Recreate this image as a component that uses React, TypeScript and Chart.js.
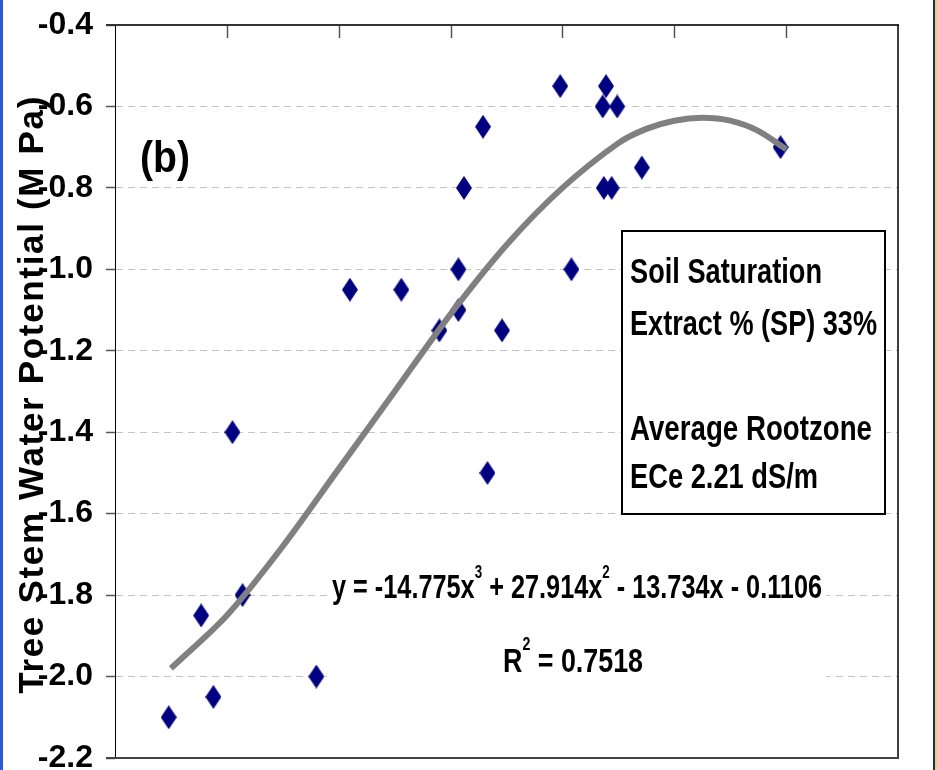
import React, { useEffect, useRef } from 'react';
import { Chart, registerables } from 'chart.js';

Chart.register(...registerables);

// Observed points (x value, tree stem water potential in MPa)
const obsX = [0.448, 0.477, 0.488, 0.505, 0.514, 0.580, 0.610, 0.656, 0.690, 0.707, 0.707, 0.712, 0.729, 0.733, 0.746, 0.798, 0.808, 0.836, 0.839, 0.849, 0.837, 0.844, 0.871, 0.995];
const obsY = [-2.10, -1.85, -2.05, -1.40, -1.80, -2.00, -1.05, -1.05, -1.15, -1.10, -1.00, -0.80, -0.65, -1.50, -1.15, -0.55, -1.00, -0.60, -0.55, -0.60, -0.80, -0.80, -0.75, -0.70];

// Polynomial trendline
const trendX = [0.45, 0.50, 0.55, 0.60, 0.65, 0.70, 0.75, 0.80, 0.85, 0.875, 0.90, 0.925, 0.95, 0.975, 1.00];
const trendY = [-1.98, -1.85, -1.68, -1.49, -1.30, -1.11, -0.94, -0.80, -0.69, -0.655, -0.635, -0.628, -0.635, -0.66, -0.705];

const yMin = -2.2;
const yMax = -0.4;
const yStep = 0.2;
const xMin = 0.4;
const xMax = 1.1;
const xStep = 0.1;

const yTitle = 'Tree Stem Water Potential (M Pa)';
const panelLabel = '(b)';
const boxLines = ['Soil Saturation', 'Extract % (SP) 33%', '', 'Average Rootzone', 'ECe 2.21 dS/m'];
const eqParts: [string, boolean][] = [['y = -14.775x', false], ['3', true], [' + 27.914x', false], ['2', true], [' - 13.734x - 0.1106', false]];
const r2Parts: [string, boolean][] = [['R', false], ['2', true], [' = 0.7518', false]];

const NARROW = '"Liberation Sans Narrow", "Arial Narrow", "Liberation Sans", Arial, sans-serif';

function fitText(ctx: CanvasRenderingContext2D, text: string, left: number, baseline: number, size: number, targetWidth: number) {
  ctx.save();
  ctx.font = `bold ${size}px ${NARROW}`;
  const w = ctx.measureText(text).width;
  const sx = targetWidth / w;
  ctx.translate(left, baseline);
  ctx.scale(sx, 1);
  ctx.textAlign = 'left';
  ctx.textBaseline = 'alphabetic';
  ctx.fillStyle = '#000';
  ctx.fillText(text, 0, 0);
  ctx.restore();
}

function richText(ctx: CanvasRenderingContext2D, parts: [string, boolean][], left: number, baseline: number, size: number, supSize: number, rise: number, targetWidth: number) {
  ctx.save();
  let natural = 0;
  const widths = parts.map(([t, sup]) => {
    ctx.font = `bold ${sup ? supSize : size}px ${NARROW}`;
    const w = ctx.measureText(t).width;
    natural += w;
    return w;
  });
  const sx = targetWidth / natural;
  ctx.translate(left, baseline);
  ctx.scale(sx, 1);
  ctx.textAlign = 'left';
  ctx.textBaseline = 'alphabetic';
  ctx.fillStyle = '#000';
  let cx = 0;
  parts.forEach(([t, sup], i) => {
    ctx.font = `bold ${sup ? supSize : size}px ${NARROW}`;
    ctx.fillText(t, cx, sup ? -rise : 0);
    cx += widths[i];
  });
  ctx.restore();
}

function makeDiamond(w: number, h: number, color: string) {
  const c = document.createElement('canvas');
  c.width = w;
  c.height = h;
  const g = c.getContext('2d')!;
  g.fillStyle = color;
  g.beginPath();
  g.moveTo(w / 2, 0);
  g.lineTo(w, h / 2);
  g.lineTo(w / 2, h);
  g.lineTo(0, h / 2);
  g.closePath();
  g.fill();
  return c;
}

const decorPlugin = {
  id: 'decor',
  afterDatasetsDraw(chart: any) {
    const ctx: CanvasRenderingContext2D = chart.ctx;
    // equation background
    ctx.save();
    ctx.fillStyle = '#fff';
    ctx.fillRect(327, 568, 499, 120);
    // text box
    ctx.fillRect(622, 231, 263, 283);
    ctx.strokeStyle = '#000';
    ctx.lineWidth = 2;
    ctx.strokeRect(622, 231, 263, 283);
    ctx.restore();

    const boxBase = [283, 335, 0, 440, 488];
    const boxW = [192, 247, 0, 242, 188];
    boxLines.forEach((t, i) => {
      if (t) fitText(ctx, t, 630, boxBase[i], 35, boxW[i]);
    });

    richText(ctx, eqParts, 332, 598, 34, 18, 20, 490);
    richText(ctx, r2Parts, 503, 672, 34, 18, 22, 140);

    fitText(ctx, panelLabel, 140, 172, 44, 50);
  },
  afterDraw(chart: any) {
    const ctx: CanvasRenderingContext2D = chart.ctx;
    const { left, right, top, bottom } = chart.chartArea;
    const xs = chart.scales.x;
    ctx.save();
    // top tick marks (inside)
    ctx.strokeStyle = '#555';
    ctx.lineWidth = 1.5;
    xs.ticks.forEach((t: any) => {
      if (t.value <= xMin + 1e-9 || t.value >= xMax - 1e-9) return;
      const px = Math.round(xs.getPixelForValue(t.value)) + 0.5;
      ctx.beginPath();
      ctx.moveTo(px, top);
      ctx.lineTo(px, top + 13);
      ctx.stroke();
    });
    // top border
    ctx.strokeStyle = '#333';
    ctx.lineWidth = 2;
    ctx.beginPath();
    ctx.moveTo(left - 9, top);
    ctx.lineTo(right + 1, top);
    ctx.stroke();
    // right border
    ctx.strokeStyle = '#000';
    ctx.lineWidth = 1.5;
    ctx.beginPath();
    ctx.moveTo(right, top);
    ctx.lineTo(right, bottom);
    ctx.stroke();
    // bottom border
    ctx.strokeStyle = '#444';
    ctx.lineWidth = 2;
    ctx.beginPath();
    ctx.moveTo(left - 9, bottom);
    ctx.lineTo(right + 1, bottom);
    ctx.stroke();

    // y axis title with letter spacing
    ctx.font = `bold 35px ${NARROW}`;
    (ctx as any).letterSpacing = '0px';
    const natural = ctx.measureText(yTitle).width;
    const spacing = (597 - natural) / (yTitle.length - 1);
    (ctx as any).letterSpacing = `${spacing}px`;
    ctx.translate(43, (top + bottom) / 2 + spacing / 2 + 2);
    ctx.rotate(-Math.PI / 2);
    ctx.textAlign = 'center';
    ctx.textBaseline = 'alphabetic';
    ctx.fillStyle = '#000';
    ctx.fillText(yTitle, 0, 0);
    ctx.restore();
  },
};

export default function App() {
  const ref = useRef<HTMLCanvasElement | null>(null);

  useEffect(() => {
    if (!ref.current) return;
    const diamond = makeDiamond(16, 24, '#000080');
    const chart = new Chart(ref.current, {
      type: 'scatter',
      data: {
        datasets: [
          {
            label: 'Trend',
            data: trendX.map((x, i) => ({ x, y: trendY[i] })),
            showLine: true,
            borderColor: '#808080',
            borderWidth: 6,
            pointRadius: 0,
            tension: 0.3,
            order: 0,
          } as any,
          {
            label: 'Observed',
            data: obsX.map((x, i) => ({ x, y: obsY[i] })),
            pointStyle: diamond as any,
            pointRadius: 8,
            backgroundColor: '#000080',
            borderColor: '#000080',
            order: 1,
          } as any,
        ],
      },
      options: {
        animation: false,
        responsive: true,
        maintainAspectRatio: false,
        layout: { padding: { left: 0, right: 39, top: 25, bottom: 30 } },
        plugins: { legend: { display: false }, tooltip: { enabled: false } },
        scales: {
          x: {
            type: 'linear',
            min: xMin,
            max: xMax,
            ticks: { display: false, stepSize: xStep },
            grid: { display: false },
            border: { display: false },
            afterFit: (s: any) => { s.height = 0; },
          },
          y: {
            type: 'linear',
            min: yMin,
            max: yMax,
            ticks: {
              stepSize: yStep,
              padding: 13,
              color: '#000',
              font: { family: NARROW, size: 32, weight: 'bold', lineHeight: 0.5 },
              callback: (v: any) => Number(v).toFixed(1),
            },
            grid: {
              color: '#c4c4c4',
              lineWidth: 1,
              tickLength: 9,
              tickColor: '#555',
              tickWidth: 1.5,
              tickBorderDash: [],
            },
            border: { display: true, color: '#000', width: 1, dash: [7, 5] },
            afterFit: (s: any) => { s.width = 115; },
          },
        },
      } as any,
      plugins: [decorPlugin],
    });
    return () => chart.destroy();
  }, []);

  return (
    <div style={{ position: 'fixed', left: 0, top: 0, width: 937, height: 770, background: '#fff', overflow: 'hidden' }}>
      <div style={{ position: 'absolute', left: 0, top: 0, width: 937, height: 788 }}>
        <canvas ref={ref} />
      </div>
      <div style={{ position: 'absolute', left: 0, top: 0, width: 3, height: 770, background: '#2a5bd7' }} />
      <div style={{ position: 'absolute', left: 933, top: 0, width: 2, height: 770, background: '#1a2b5c' }} />
      <div style={{ position: 'absolute', left: 935, top: 0, width: 2, height: 770, background: '#f3c48c' }} />
    </div>
  );
}
